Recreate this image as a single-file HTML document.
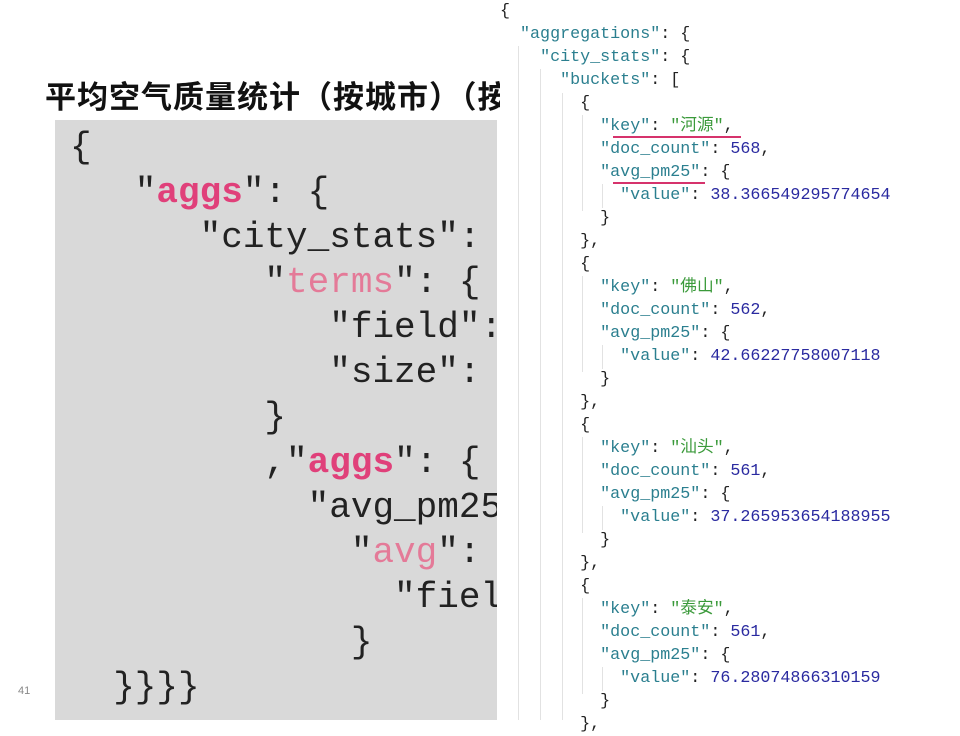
<!DOCTYPE html>
<html><head><meta charset="utf-8"><style>
body{margin:0;width:960px;height:720px;overflow:hidden;background:#fff;position:relative;font-family:"Liberation Sans","Noto Sans CJK SC",sans-serif}
.title{position:absolute;left:45px;top:72px;font-size:31px;letter-spacing:1px;font-weight:bold;color:#111;white-space:nowrap;font-family:"Liberation Sans","Noto Sans CJK SC",sans-serif}
.box{position:absolute;left:55px;top:120px;width:442px;height:600px;background:#d9d9d9;overflow:hidden}
.lc{position:absolute;left:15px;top:5px;margin:0;font-family:"Liberation Mono",monospace;font-size:36px;line-height:45px;color:#222;white-space:pre}
.pk{color:#e0407a;font-weight:bold}
.pl{color:#e47a98}
.rp{position:absolute;left:500px;top:0;width:460px;height:720px;background:#fff}
.rc{position:absolute;left:0;top:0;margin:0;font-family:"Liberation Mono","Noto Sans CJK SC",monospace;font-size:16.7px;line-height:23px;color:#222;white-space:pre}
.k{color:#2b7f8f}.n{color:#2a2aa0}.s{color:#3b9a3b}
.g{position:absolute;width:1px;background:#e2e2e2}
.u{position:absolute;height:2px;background:#d6336c}
.pn{position:absolute;left:18px;top:685px;font-size:11px;color:#888}
</style></head><body>
<div class="title">平均空气质量统计（按城市）（按</div>
<div class="box"><pre class="lc">{
   "<span class="pk">aggs</span>": {
      "city_stats": {
         "<span class="pl">terms</span>": {
            "field": "city",
            "size": 5
         }
         ,"<span class="pk">aggs</span>": {
           "avg_pm25": {
             "<span class="pl">avg</span>": {
               "field": "pm25"
             }
  }}}}</pre></div>
<div class="pn">41</div>
<div class="rp">
<div class="g" style="left:18px;top:46px;height:674px"></div>
<div class="g" style="left:40px;top:69px;height:651px"></div>
<div class="g" style="left:62px;top:93px;height:627px"></div>
<div class="g" style="left:82px;top:115px;height:96px"></div>
<div class="g" style="left:102px;top:184px;height:24px"></div>
<div class="g" style="left:82px;top:276px;height:96px"></div>
<div class="g" style="left:102px;top:345px;height:24px"></div>
<div class="g" style="left:82px;top:437px;height:96px"></div>
<div class="g" style="left:102px;top:506px;height:24px"></div>
<div class="g" style="left:82px;top:598px;height:96px"></div>
<div class="g" style="left:102px;top:667px;height:24px"></div>
<pre class="rc">{
  <span class="k">"aggregations"</span>: {
    <span class="k">"city_stats"</span>: {
      <span class="k">"buckets"</span>: [
        {
          <span class="k">"key"</span>: <span class="s">"河源"</span>,
          <span class="k">"doc_count"</span>: <span class="n">568</span>,
          <span class="k">"avg_pm25"</span>: {
            <span class="k">"value"</span>: <span class="n">38.366549295774654</span>
          }
        },
        {
          <span class="k">"key"</span>: <span class="s">"佛山"</span>,
          <span class="k">"doc_count"</span>: <span class="n">562</span>,
          <span class="k">"avg_pm25"</span>: {
            <span class="k">"value"</span>: <span class="n">42.66227758007118</span>
          }
        },
        {
          <span class="k">"key"</span>: <span class="s">"汕头"</span>,
          <span class="k">"doc_count"</span>: <span class="n">561</span>,
          <span class="k">"avg_pm25"</span>: {
            <span class="k">"value"</span>: <span class="n">37.265953654188955</span>
          }
        },
        {
          <span class="k">"key"</span>: <span class="s">"泰安"</span>,
          <span class="k">"doc_count"</span>: <span class="n">561</span>,
          <span class="k">"avg_pm25"</span>: {
            <span class="k">"value"</span>: <span class="n">76.28074866310159</span>
          }
        },</pre>
<div class="u" style="left:113px;top:136px;width:128px"></div>
<div class="u" style="left:113px;top:182px;width:92px"></div>
</div>
</body></html>
